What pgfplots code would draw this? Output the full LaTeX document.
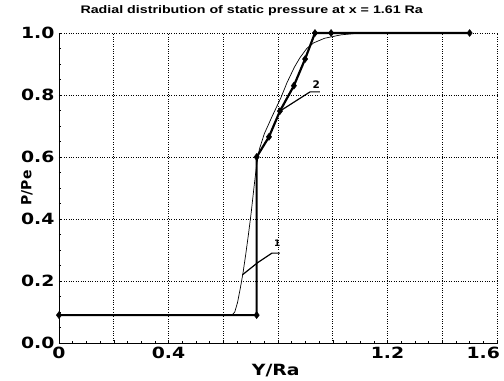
\documentclass[border=0pt]{standalone}
\usepackage{pgfplots}
\pgfplotsset{compat=1.18}
\usepackage{fontspec}
\setmainfont{Liberation Sans}
\newfontfamily\tickfont[FakeStretch=1.22]{DejaVu Sans}
\newfontfamily\labfont{DejaVu Sans}
\newfontfamily\titlefont[FakeStretch=1.3]{Liberation Sans}
\begin{document}
\begin{tikzpicture}
\useasboundingbox (-59bp,-38bp) rectangle (445bp,343bp);
\begin{axis}[
  at={(0,0)}, anchor=south west,
  scale only axis, width=438bp, height=310bp,
  xmin=0, xmax=1.6, ymin=0, ymax=1.0,
  axis lines=left, axis line style={-, line width=0.8pt},
  xtick={0,0.2,...,1.6}, xticklabels={0,,0.4,,,,1.2,,\hbox to 0pt{\hss 1.6\hskip-3bp}},
  ytick={0,0.2,...,1.0},
  yticklabels={0.0,0.2,0.4,0.6,0.8,1.0},
  minor x tick num=3, minor y tick num=3,
  tick align=inside, major tick length=3pt, minor tick length=2pt,
  tick style={black, line width=0.5pt},
  grid=major, grid style={black, dotted, line width=0.6pt},
  tick label style={font=\tickfont\bfseries\fontsize{15.5}{15.5}\selectfont},
  /pgf/number format/assume math mode=true,
  xticklabel style={yshift=-1pt},
  yticklabel style={xshift=-1pt},
  title={Radial distribution of static pressure at x = 1.61 Ra},
  title style={font=\titlefont\bfseries\fontsize{11}{11}\selectfont, at={(axis description cs:0.44,1.052)}, anchor=center},
  xlabel={Y/Ra}, xlabel style={font=\tickfont\bfseries\fontsize{15.5}{15.5}\selectfont, at={(axis description cs:0.495,-0.09)}, anchor=center},
  ylabel={P/Pe}, ylabel style={font=\labfont\bfseries\fontsize{14}{14}\selectfont, at={(axis description cs:-0.073,0.50)}, anchor=center},
  clip=false,
]
% thin curve
\addplot[black, line width=0.7pt] coordinates {
 (0,0.09) (0.632,0.09) (0.642,0.10) (0.652,0.13) (0.662,0.175) (0.672,0.225) (0.682,0.285)
 (0.692,0.35) (0.702,0.42) (0.712,0.50) (0.722,0.575) (0.732,0.625) (0.75,0.675) (0.778,0.73)
 (0.81,0.79) (0.833,0.84) (0.86,0.89) (0.88,0.92) (0.905,0.95) (0.93,0.968)
 (0.97,0.983) (1.03,0.994) (1.1,1.0) (1.5,1.0)};
% thick curve with diamonds
\addplot[black, line width=2.2pt, mark=diamond*, mark size=3.5pt, mark options={solid, line width=0.5pt}] coordinates {
 (0,0.09) (0.722,0.09) (0.722,0.6) (0.767,0.665) (0.807,0.748) (0.858,0.83)
 (0.899,0.916) (0.935,1.0) (0.994,1.0) (1.5,1.0)};
% leader 1
\addplot[black, line width=1.2pt] coordinates {(0.67,0.22) (0.727,0.26) (0.778,0.29) (0.807,0.29)};
% leader 2
\addplot[black, line width=1.2pt] coordinates {(0.807,0.748) (0.917,0.81) (0.953,0.81)};
\node[font=\labfont\bfseries\fontsize{9}{9}\selectfont] at (axis cs:0.797,0.322) {1};
\node[font=\labfont\bfseries\fontsize{10.5}{10.5}\selectfont] at (axis cs:0.94,0.835) {2};
\end{axis}
\end{tikzpicture}
\end{document}
